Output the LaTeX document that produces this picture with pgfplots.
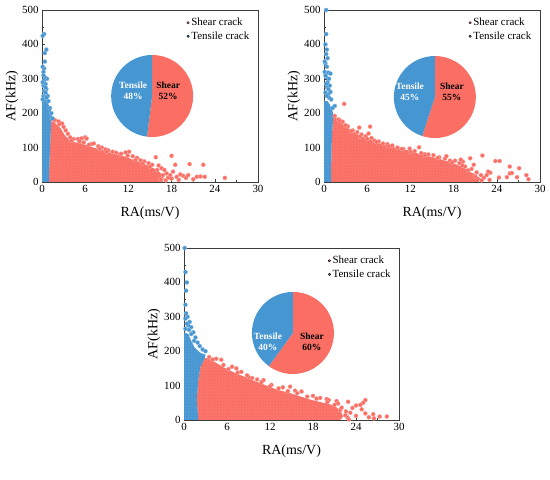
\documentclass[border=0pt]{standalone}
\usepackage{fontspec}
\setmainfont{Liberation Serif}
\usepackage{pgfplots}
\pgfplotsset{compat=1.18}
\usetikzlibrary{patterns}
\definecolor{sh}{RGB}{250,110,100}
\definecolor{te}{RGB}{70,150,210}
\definecolor{ax}{RGB}{60,60,60}
\pgfplotsset{
  panel/.style={scale only axis, width=216bp, height=172bp,
    xmin=0, xmax=30, ymin=0, ymax=500,
    xtick={0,6,...,30}, ytick={0,100,...,500},
    minor x tick num=1, minor y tick num=1,
    xtick pos=bottom, ytick pos=left, tick align=inside,
    major tick length=3bp, minor tick length=1.8bp,
    axis line style={line width=0.5pt, ax},
    every tick/.style={ax, line width=0.5pt},
    tick label style={font=\fontsize{11}{12}\selectfont, black},
    /pgf/number format/assume math mode=true,
    xlabel={RA(ms/V)}, ylabel={AF(kHz)},
    label style={font=\fontsize{14}{15}\selectfont},
    xlabel style={at={(axis description cs:0.5,-0.18)}, anchor=center},
    ylabel style={at={(axis description cs:-0.139,0.5)}, anchor=center},
    legend style={draw=none, fill=none, at={(rel axis cs:0.67,0.965)}, anchor=north west,
      font=\fontsize{11}{12}\selectfont, row sep=0.5bp, inner sep=0pt},
    legend cell align=left,
    shearfill/.style={fill=sh, draw=none, forget plot, postaction={pattern=crosshatch dots, pattern color=white!20!sh}},
    tensfill/.style={fill=te, draw=none, forget plot, postaction={pattern=crosshatch dots, pattern color=white!20!te}},
    shearpts/.style={only marks, mark=*, mark size=2.1bp, mark options={fill=sh, draw=white!45!sh, line width=0.3pt}, forget plot},
    tenspts/.style={only marks, mark=*, mark size=2.1bp, mark options={fill=te, draw=white!45!te, line width=0.3pt}, forget plot},
  }
}
\newcommand{\legendimgs}{%
  \addlegendimage{only marks, mark=*, mark size=1.2bp, mark options={fill=sh, draw=none}}
  \addlegendentry{Shear crack}
  \addlegendimage{only marks, mark=*, mark size=1.2bp, mark options={fill=te, draw=none}}
  \addlegendentry{Tensile crack}}
\begin{document}
\begin{tikzpicture}
\useasboundingbox (0,0) rectangle (550bp,480bp);
% ---------------- (a) ----------------
\begin{axis}[panel, at={(42bp,298bp)}, anchor=south west]
\legendimgs
\addplot[shearfill] coordinates {(1.0,0) (16.8,0) (16.9,12) (16.4,28) (15.5,40) (14.5,50) (13.5,58) (12.5,66) (11.5,74) (10.5,78) (9.5,85) (8.5,92) (7.5,98) (6.5,104) (5.5,112) (4.5,116) (3.8,122) (3.2,135) (2.6,155) (2.0,168) (1.5,178) (1.3,176) (1.2,140) (1.1,90) (1.0,40)} -- cycle;
\addplot[shearpts] coordinates {(1.5,181) (1.8,180) (2.3,176) (2.8,170) (2.4,168) (3.3,150) (3.0,160) (3.6,140) (3.9,130) (4.4,125) (4.1,120) (5.0,125) (5.5,127) (5.2,118) (6.0,130) (6.2,126) (5.8,115) (6.8,110) (7.2,112) (6.5,108) (7.8,104) (8.3,100) (8.0,96) (8.8,95) (9.2,92) (9.8,88) (9.0,88) (10.3,85) (10.8,80) (11.0,82) (11.6,86) (12.1,88) (11.9,76) (12.6,75) (13.2,70) (13.0,64) (13.7,63) (14.2,60) (14.0,54) (14.8,55) (15.3,50) (15.0,45) (15.8,72) (16.2,48) (16.6,40) (16.0,35) (17.0,35) (17.3,25) (16.8,20) (17.8,20) (18.0,76) (18.2,30) (18.5,50) (18.7,15) (19.2,22) (19.6,18) (20.0,12) (20.5,52) (20.3,20) (21.0,8) (21.5,15) (22.0,16) (22.4,50) (22.6,15) (25.4,12) (16.5,8) (17.2,5) (18.0,10) (17.5,12) (19.0,6)};
\addplot[tensfill] coordinates {(0,0) (1.0,0) (1.0,40) (1.1,90) (1.2,140) (1.3,176) (1.4,195) (1.2,210) (0.9,225) (0.7,240) (0.4,245) (0,245)} -- cycle;
\addplot[tenspts] coordinates {(0.2,250) (0.5,255) (0.3,265) (0.6,270) (0.2,280) (0.5,285) (0.3,295) (0.7,300) (0.4,305) (0.2,310) (0.3,330) (0.1,335) (0.4,375) (0.6,385) (0.3,430) (0.1,425) (0.5,260) (0.8,250) (1.1,215) (1.3,200) (1.45,185) (0.9,235) (0.6,245) (0.1,240) (0.1,290) (0.4,350) (0.2,320) (0.5,275)};
\fill[sh] (axis cs:15.3,250) -- ++(90:41bp) arc[start angle=90, end angle=-97.2, radius=41bp] -- cycle;
\fill[te] (axis cs:15.3,250) -- ++(90:41bp) arc[start angle=90, end angle=262.8, radius=41bp] -- cycle;
\node[font=\bfseries\fontsize{9.5}{11}\selectfont, white, align=center] at (axis cs:15.3,250) [xshift=-19bp, yshift=5bp] {Tensile\\48\%};
\node[font=\bfseries\fontsize{9.5}{11}\selectfont, black, align=center] at (axis cs:15.3,250) [xshift=16bp, yshift=5bp] {Shear\\52\%};
\node[font=\fontsize{12}{14}\selectfont] at (axis description cs:0.5,-0.267) {(\textbf{a})};
\end{axis}
% ---------------- (b) ----------------
\begin{axis}[panel, at={(324bp,298bp)}, anchor=south west]
\legendimgs
\addplot[shearfill] coordinates {(1.0,0) (21.5,0) (21.7,10) (21.0,22) (20.2,30) (19.5,40) (18.5,50) (17.5,58) (16.5,64) (15.5,70) (14.5,75) (13.5,80) (12.5,86) (11.5,93) (10.5,98) (9.5,102) (8.5,108) (7.5,114) (6.5,122) (5.5,130) (4.5,140) (3.5,155) (2.5,170) (1.8,185) (1.3,190) (1.15,150) (1.05,100) (1.0,50)} -- cycle;
\addplot[shearpts] coordinates {(2.8,227) (4.9,158) (6.4,161) (6.2,141) (6.6,128) (11.9,97) (13.2,101) (14.0,81) (18.2,62) (19.3,59) (20.3,69) (22.0,77) (23.8,61) (24.4,61) (23.1,27) (24.3,13) (25.8,45) (27.1,40) (25.8,25) (28.1,20) (28.4,8) (25.4,14) (26.8,14) (26.1,26) (22.8,30) (2.0,182) (2.6,175) (3.3,162) (4.0,150) (4.6,145) (5.2,138) (5.8,133) (7.0,120) (7.6,118) (8.2,112) (8.8,110) (9.5,106) (10.2,100) (11.0,96) (12.6,90) (13.5,84) (14.5,80) (15.2,78) (16.0,72) (16.8,68) (17.5,62) (18.8,55) (19.6,45) (20.5,38) (21.2,28) (21.8,20) (22.2,12) (21.9,5) (20.8,50) (19.0,65) (17.0,75) (1.5,192) (2.2,178) (3.0,165) (3.8,148) (5.0,132) (6.0,125) (7.3,116) (9.0,104) (10.8,96) (12.0,88) (14.0,76) (15.8,70) (17.8,57) (19.2,48) (20.0,34) (21.0,16) (22.6,20) (23.0,6)};
\addplot[tensfill] coordinates {(0,0) (1.0,0) (1.0,50) (1.05,100) (1.15,150) (1.3,190) (1.2,205) (1.0,215) (0.8,225) (0.5,235) (0,235)} -- cycle;
\addplot[tenspts] coordinates {(0.3,500) (0.3,430) (0.2,400) (0.4,385) (0.3,372) (0.5,360) (0.2,345) (0.4,335) (0.1,320) (0.6,318) (0.9,315) (0.3,305) (0.7,300) (0.5,290) (0.8,280) (0.4,275) (0.9,262) (0.6,255) (1.0,240) (1.5,221) (0.2,260) (0.3,285) (0.7,245) (1.2,215) (0.1,350) (0.2,310) (0.6,270) (0.4,250)};
\fill[sh] (axis cs:15.4,247) -- ++(90:41bp) arc[start angle=90, end angle=-108, radius=41bp] -- cycle;
\fill[te] (axis cs:15.4,247) -- ++(90:41bp) arc[start angle=90, end angle=252, radius=41bp] -- cycle;
\node[font=\bfseries\fontsize{9.5}{11}\selectfont, white, align=center] at (axis cs:15.4,247) [xshift=-25bp, yshift=5bp] {Tensile\\45\%};
\node[font=\bfseries\fontsize{9.5}{11}\selectfont, black, align=center] at (axis cs:15.4,247) [xshift=17bp, yshift=5bp] {Shear\\55\%};
\node[font=\fontsize{12}{14}\selectfont] at (axis description cs:0.5,-0.267) {(\textbf{b})};
\end{axis}
% ---------------- (c) ----------------
\begin{axis}[panel, width=215bp, at={(184bp,60bp)}, anchor=south west]
\legendimgs
\addplot[shearfill] coordinates {(2.0,0) (21.8,0) (22.2,10) (21.9,25) (21.2,38) (20.3,46) (19.0,52) (17.5,60) (16.0,70) (14.5,80) (13.0,88) (11.5,100) (10.0,112) (8.5,125) (7.0,138) (5.8,150) (4.8,162) (4.0,172) (3.2,180) (2.9,180) (2.3,155) (2.0,117) (1.77,58)} -- cycle;
\addplot[shearpts] coordinates {(5.2,175) (6.7,155) (11.1,116) (14.8,97) (16.4,83) (19.9,61) (21.3,55) (22.9,53) (24.6,44) (25.3,58) (24.8,31) (26.4,17) (27.3,10) (28.3,10) (25.3,19) (23.2,21) (21.8,29) (25.0,50) (24.0,42) (23.5,35) (22.6,25) (22.8,8) (24.0,12) (25.8,8) (26.5,5) (3.5,183) (4.5,178) (8.0,140) (7.3,150) (9.0,125) (10.2,118) (12.2,102) (13.8,95) (15.5,85) (18.0,70) (19.0,64) (20.2,58) (21.5,48) (4.0,176) (5.5,160) (6.2,148) (7.5,138) (8.8,130) (9.5,122) (10.8,110) (12.0,98) (13.2,92) (14.5,84) (15.8,78) (17.2,68) (18.5,62) (20.0,52) (21.0,44) (22.0,36) (22.5,14) (23.0,2)};
\addplot[tensfill] coordinates {(0,0) (2.0,0) (1.77,58) (2.0,117) (2.3,155) (2.9,180) (3.0,190) (2.3,195) (1.5,210) (1.0,230) (0.6,250) (0,255)} -- cycle;
\addplot[tenspts] coordinates {(0.1,500) (0.2,430) (0.4,400) (0.3,376) (0.2,335) (0.3,310) (0.5,300) (0.2,295) (0.8,285) (1.0,270) (0.6,275) (1.3,255) (1.0,250) (1.6,240) (1.9,225) (2.2,215) (2.6,205) (3.0,200) (1.4,230) (0.7,262) (0.4,280) (0.2,265)};
\fill[sh] (axis cs:15.2,253) -- ++(90:41bp) arc[start angle=90, end angle=-126, radius=41bp] -- cycle;
\fill[te] (axis cs:15.2,253) -- ++(90:41bp) arc[start angle=90, end angle=234, radius=41bp] -- cycle;
\node[font=\bfseries\fontsize{9.5}{11}\selectfont, white, align=center] at (axis cs:15.2,253) [xshift=-25bp, yshift=-9bp] {Tensile\\40\%};
\node[font=\bfseries\fontsize{9.5}{11}\selectfont, black, align=center] at (axis cs:15.2,253) [xshift=19bp, yshift=-9bp] {Shear\\60\%};
\node[font=\fontsize{12}{14}\selectfont] at (axis description cs:0.5,-0.279) {(\textbf{c})};
\end{axis}
\end{tikzpicture}
\end{document}
